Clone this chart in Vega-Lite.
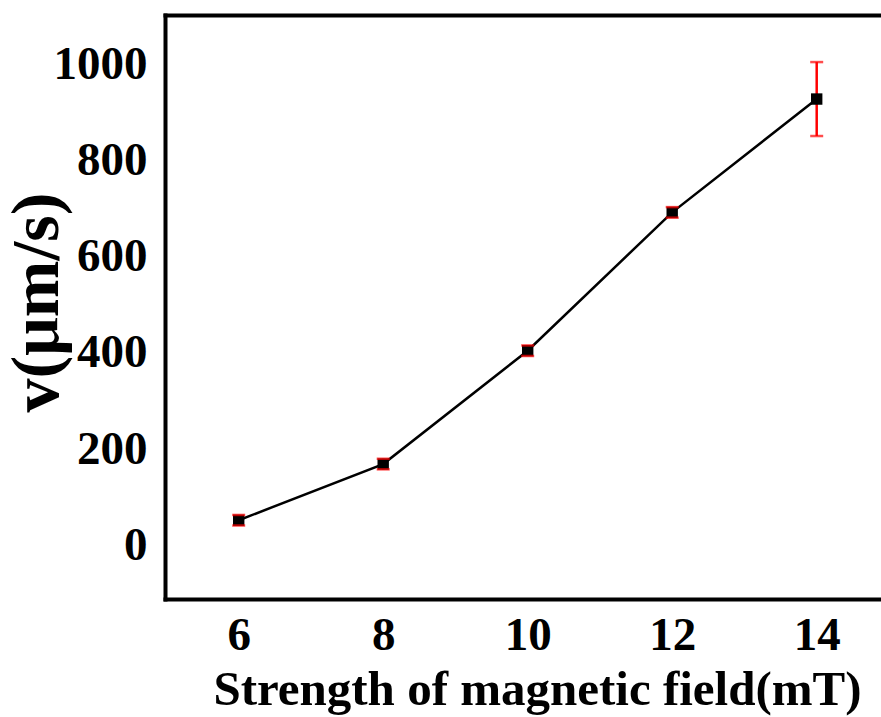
{
  "$schema": "https://vega.github.io/schema/vega-lite/v6.json",
  "autosize": "none",
  "width": 716,
  "height": 584,
  "padding": {"left": 165, "top": 15, "right": 0, "bottom": 118},
  "background": "white",
  "config": {
    "view": {"stroke": null},
    "font": "Liberation Serif",
    "axis": {
      "labelFont": "Liberation Serif",
      "labelFontWeight": "bold",
      "labelFontSize": 47,
      "labelColor": "black",
      "titleFont": "Liberation Serif",
      "titleFontWeight": "bold",
      "titleColor": "black",
      "ticks": false,
      "grid": false,
      "domainColor": "black",
      "domainWidth": 4,
      "domainCap": "square"
    }
  },
  "data": {
    "values": [
      {"B": 6, "v": 58, "lo": 47, "hi": 69},
      {"B": 8, "v": 175, "lo": 164, "hi": 186},
      {"B": 10, "v": 411, "lo": 400, "hi": 422},
      {"B": 12, "v": 699, "lo": 688, "hi": 710},
      {"B": 14, "v": 935, "lo": 858, "hi": 1012}
    ]
  },
  "layer": [
    {
      "mark": {"type": "line", "color": "black", "strokeWidth": 2.5},
      "encoding": {
        "x": {
          "field": "B", "type": "quantitative",
          "scale": {"domain": [4.98, 14.89], "nice": false, "zero": false},
          "axis": {
            "values": [6, 8, 10, 12, 14],
            "format": "d",
            "labelPadding": 13,
            "title": "Strength of magnetic field(mT)",
            "titleFontSize": 49,
            "titleX": 372,
            "titleY": 66,
            "titleBaseline": "top"
          }
        },
        "y": {
          "field": "v", "type": "quantitative",
          "scale": {"domain": [-106, 1110], "nice": false, "zero": false},
          "axis": {
            "values": [0, 200, 400, 600, 800, 1000],
            "format": "d",
            "labelPadding": 18,
            "labelOffset": -3,
            "title": "v(μm/s)",
            "titleFontSize": 68,
            "titleX": -94,
            "titleY": 287,
            "titleAngle": 270,
            "titleBaseline": "bottom",
            "titleAlign": "center"
          }
        }
      }
    },
    {
      "mark": {"type": "rule", "color": "#ff0000", "strokeWidth": 2.5},
      "encoding": {
        "x": {"field": "B", "type": "quantitative", "axis": null},
        "y": {"field": "lo", "type": "quantitative"},
        "y2": {"field": "hi"}
      }
    },
    {
      "mark": {"type": "point", "shape": "square", "filled": true, "color": "black", "size": 130, "opacity": 1},
      "encoding": {
        "x": {"field": "B", "type": "quantitative", "axis": null},
        "y": {"field": "v", "type": "quantitative"}
      }
    },
    {
      "mark": {"type": "tick", "color": "#ff0000", "orient": "horizontal", "size": 13, "thickness": 2.5},
      "encoding": {
        "x": {"field": "B", "type": "quantitative", "axis": null},
        "y": {"field": "lo", "type": "quantitative"}
      }
    },
    {
      "mark": {"type": "tick", "color": "#ff0000", "orient": "horizontal", "size": 13, "thickness": 2.5},
      "encoding": {
        "x": {"field": "B", "type": "quantitative", "axis": null},
        "y": {"field": "hi", "type": "quantitative"}
      }
    },
    {
      "mark": {"type": "point", "opacity": 0},
      "encoding": {
        "x": {
          "field": "B", "type": "quantitative",
          "axis": {"orient": "top", "labels": false, "values": [], "title": null, "domain": true}
        },
        "y": {"field": "v", "type": "quantitative"}
      }
    }
  ],
  "resolve": {"axis": {"x": "independent"}}
}
